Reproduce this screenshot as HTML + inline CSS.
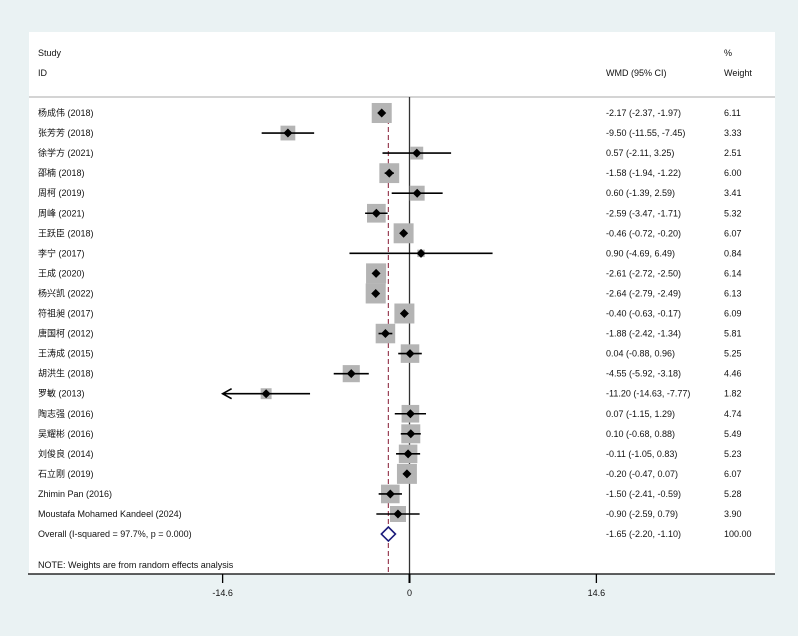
<!DOCTYPE html>
<html><head><meta charset="utf-8">
<style>
html,body{margin:0;padding:0;background:#eaf2f3;}
svg{display:block;font-family:"Liberation Sans","Noto Sans CJK SC",sans-serif;}
</style></head>
<body>
<svg id="chart" width="798" height="636" xmlns="http://www.w3.org/2000/svg">
<rect x="0" y="0" width="798" height="636" fill="#eaf2f3"/>
<rect x="29" y="32" width="746" height="542" fill="#ffffff"/>
<g font-size="9" fill="#111">
<text x="38" y="56">Study</text>
<text x="38" y="76">ID</text>
<text x="606" y="76">WMD (95% CI)</text>
<text x="724" y="56">%</text>
<text x="724" y="76">Weight</text>
<text x="38" y="568">NOTE: Weights are from random effects analysis</text>
</g>
<line x1="29" y1="97" x2="775" y2="97" stroke="#aaa" stroke-width="1"/>
<g id="marks"></g>
</svg>
<script>
const studies=["杨成伟 (2018)","张芳芳 (2018)","徐学方 (2021)","邵楠 (2018)","周柯 (2019)","周峰 (2021)","王跃臣 (2018)","李宁 (2017)","王成 (2020)","杨兴凯 (2022)","符祖昶 (2017)","唐国柯 (2012)","王涛成 (2015)","胡洪生 (2018)","罗敏 (2013)","陶志强 (2016)","吴耀彬 (2016)","刘俊良 (2014)","石立刚 (2019)","Zhimin Pan  (2016)","Moustafa Mohamed Kandeel  (2024)"];
const est=[-2.17,-9.50,0.57,-1.58,0.60,-2.59,-0.46,0.90,-2.61,-2.64,-0.40,-1.88,0.04,-4.55,-11.20,0.07,0.10,-0.11,-0.20,-1.50,-0.90];
const lo=[-2.37,-11.55,-2.11,-1.94,-1.39,-3.47,-0.72,-4.69,-2.72,-2.79,-0.63,-2.42,-0.88,-5.92,-14.63,-1.15,-0.68,-1.05,-0.47,-2.41,-2.59];
const hi=[-1.97,-7.45,3.25,-1.22,2.59,-1.71,-0.20,6.49,-2.50,-2.49,-0.17,-1.34,0.96,-3.18,-7.77,1.29,0.88,0.83,0.07,-0.59,0.79];
const weights=[6.11,3.33,2.51,6.00,3.41,5.32,6.07,0.84,6.14,6.13,6.09,5.81,5.25,4.46,1.82,4.74,5.49,5.23,6.07,5.28,3.90];
const overall=[-1.65,-2.20,-1.10];
const overallWeight="100.00";
const overallLabel="Overall  (I-squared = 97.7%, p = 0.000)";
const ticks=[-14.6,0,14.6];
const tickLabels=["-14.6","0","14.6"];
const xMin=-14.6;

const NS="http://www.w3.org/2000/svg";
const g=document.getElementById('marks');
function x(v){return 409.5+v*12.8;}
function y(i){return 113+i*20.05;}
function mk(t,a,p){const e=document.createElementNS(NS,t);for(const k in a)e.setAttribute(k,a[k]);(p||g).appendChild(e);return e;}
function fmt(v){return v.toFixed(2);}
const axisY=574;
// reference lines
let zl=mk('line',{x1:x(0),y1:97,x2:x(0),y2:axisY,stroke:'#333','stroke-width':1.3});


let dl=mk('line',{x1:x(overall[0]),y1:103,x2:x(overall[0]),y2:axisY,stroke:'#9a4055','stroke-width':1.2,'stroke-dasharray':'5,3'});


for(let i=0;i<studies.length;i++){
  const yy=y(i);
  const s=8.1*Math.sqrt(weights[i]);
  let b=mk('rect',{x:x(est[i])-s/2,y:yy-s/2,width:s,height:s,fill:'#b4b4b4'});
  
  
  const l0=Math.max(lo[i],xMin);
  let ci=mk('line',{x1:x(l0),y1:yy,x2:x(hi[i]),y2:yy,stroke:'#000','stroke-width':1.6});
  
  
  if(lo[i]<xMin){
    let ar=mk('path',{d:`M${x(xMin)+9},${yy-5} L${x(xMin)},${yy} L${x(xMin)+9},${yy+5}`,fill:'none',stroke:'#000','stroke-width':1.6});
    
    
  }
  const cx=x(est[i]);
  let d=mk('path',{d:`M${cx},${yy-4.5} L${cx+4.5},${yy} L${cx},${yy+4.5} L${cx-4.5},${yy} Z`,fill:'#000'});
  
  
  let t=mk('text',{x:38,y:yy+3,'font-size':9,fill:'#111'});t.textContent=studies[i];
  
  
  let t2=mk('text',{x:606,y:yy+3,'font-size':9,fill:'#111'});t2.textContent=`${fmt(est[i])} (${fmt(lo[i])}, ${fmt(hi[i])})`;
  
  
  let t3=mk('text',{x:724,y:yy+3,'font-size':9,fill:'#111'});t3.textContent=fmt(weights[i]);
  
  
}
const oy=y(studies.length);
let dia=mk('path',{d:`M${x(overall[1])},${oy} L${x(overall[0])},${oy-7} L${x(overall[2])},${oy} L${x(overall[0])},${oy+7} Z`,fill:'#fff',stroke:'#1a1a7a','stroke-width':1.6});


let ot=mk('text',{x:38,y:oy+3,'font-size':9,fill:'#111'});ot.textContent=overallLabel;


let ot2=mk('text',{x:606,y:oy+3,'font-size':9,fill:'#111'});ot2.textContent=`${fmt(overall[0])} (${fmt(overall[1])}, ${fmt(overall[2])})`;


let ot3=mk('text',{x:724,y:oy+3,'font-size':9,fill:'#111'});ot3.textContent=overallWeight;


// axis
let ax=mk('line',{x1:28,y1:axisY,x2:775,y2:axisY,stroke:'#000','stroke-width':1.3});


for(let i=0;i<ticks.length;i++){
  let tk=mk('line',{x1:x(ticks[i]),y1:axisY,x2:x(ticks[i]),y2:axisY+9,stroke:'#000','stroke-width':ticks[i]===0?2:1.3});
  
  
  let tl=mk('text',{x:x(ticks[i]),y:axisY+22,'font-size':9,'text-anchor':'middle',fill:'#111'});tl.textContent=tickLabels[i];
  
  
}
</script>
</body></html>
